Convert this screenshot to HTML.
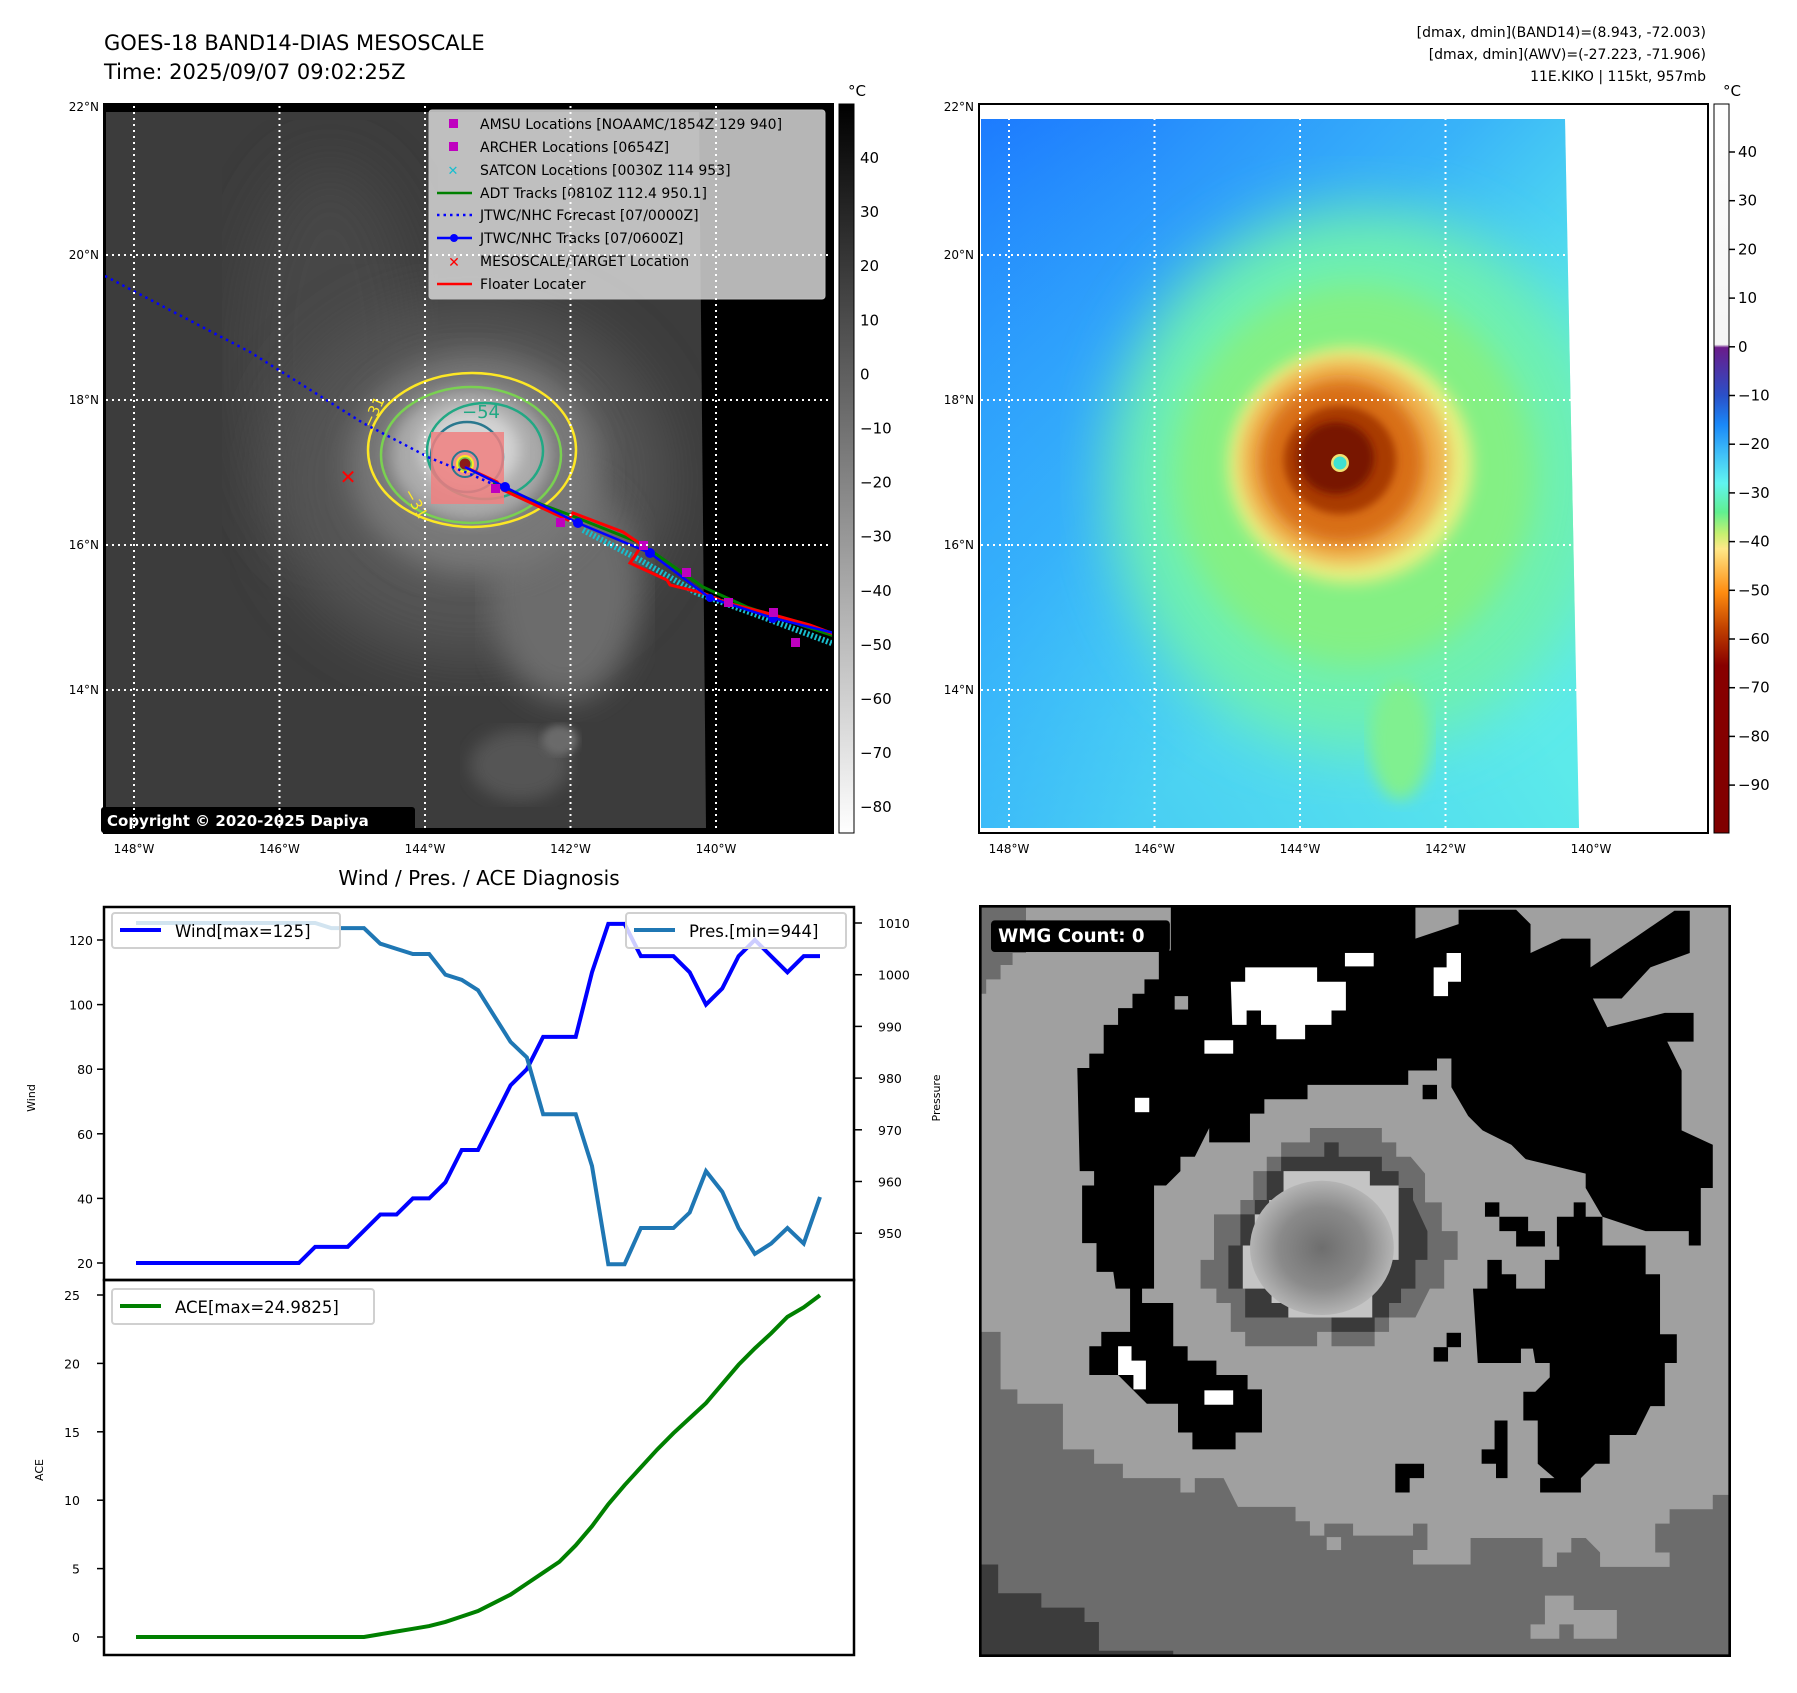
<!DOCTYPE html>
<html><head><meta charset="utf-8">
<style>
html,body{margin:0;padding:0;background:#fff;}
svg{display:block;font-family:"DejaVu Sans","Liberation Sans",sans-serif;}
</style></head>
<body>
<svg id="fig" width="1797" height="1693" viewBox="0 0 1797 1693" xmlns="http://www.w3.org/2000/svg">
<defs>
  <filter id="b8"><feGaussianBlur stdDeviation="8"/></filter>
  <filter id="b15"><feGaussianBlur stdDeviation="15"/></filter>
  <filter id="b30"><feGaussianBlur stdDeviation="30"/></filter>
  <filter id="b4"><feGaussianBlur stdDeviation="4"/></filter>
  <clipPath id="sat1"><polygon points="106,112 699,112 706,828 106,828"/></clipPath>
  <clipPath id="sat2"><polygon points="981,119 1565,119 1579,828 981,828"/></clipPath>
  <clipPath id="frame1"><rect x="104" y="104" width="729" height="729"/></clipPath>
  <linearGradient id="cb1" x1="0" y1="0" x2="0" y2="1">
    <stop offset="0" stop-color="#000"/><stop offset="1" stop-color="#fff"/>
  </linearGradient>
  <linearGradient id="cb2" x1="0" y1="0" x2="0" y2="1">
    <stop offset="0" stop-color="#ffffff"/>
    <stop offset="0.33" stop-color="#f4f4f4"/>
    <stop offset="0.334" stop-color="#6a1b8a"/>
    <stop offset="0.40" stop-color="#2a50c8"/>
    <stop offset="0.44" stop-color="#1a88f8"/>
    <stop offset="0.48" stop-color="#40c0f8"/>
    <stop offset="0.52" stop-color="#60f4f0"/>
    <stop offset="0.56" stop-color="#60f090"/>
    <stop offset="0.59" stop-color="#c8f070"/>
    <stop offset="0.61" stop-color="#ffe888"/>
    <stop offset="0.67" stop-color="#ff8c10"/>
    <stop offset="0.72" stop-color="#c04000"/>
    <stop offset="0.77" stop-color="#880000"/>
    <stop offset="1" stop-color="#800000"/>
  </linearGradient>
  <radialGradient id="eyeG" cx="0.5" cy="0.5" r="0.5">
    <stop offset="0" stop-color="#6e6e6e"/><stop offset="0.6" stop-color="#8a8a8a"/><stop offset="1" stop-color="#b4b4b4"/>
  </radialGradient>
  <linearGradient id="blueTL" x1="0" y1="0" x2="1" y2="1">
    <stop offset="0" stop-color="#1870ff"/><stop offset="0.35" stop-color="#2a9cff" stop-opacity="0.7"/><stop offset="0.6" stop-color="#30b0ff" stop-opacity="0"/>
  </linearGradient>
  <linearGradient id="blueBL" x1="0" y1="1" x2="0.6" y2="0.6">
    <stop offset="0" stop-color="#30a8ff" stop-opacity="0.6"/><stop offset="1" stop-color="#30b0ff" stop-opacity="0"/>
  </linearGradient>
</defs>

<text x="104" y="50" font-size="21">GOES-18 BAND14-DIAS MESOSCALE</text>
<text x="104" y="79" font-size="21">Time: 2025/09/07 09:02:25Z</text>
<g font-size="14" text-anchor="end">
  <text x="1706" y="37">[dmax, dmin](BAND14)=(8.943, -72.003)</text>
  <text x="1706" y="59">[dmax, dmin](AWV)=(-27.223, -71.906)</text>
  <text x="1706" y="81">11E.KIKO | 115kt, 957mb</text>
</g>

<g>
  <rect x="104" y="104" width="729" height="729" fill="#000"/>
  <g clip-path="url(#sat1)">
    <rect x="104" y="104" width="729" height="729" fill="#3c3c3c"/>
    <ellipse cx="330" cy="360" rx="90" ry="200" fill="#464646" filter="url(#b30)"/>
    <ellipse cx="470" cy="480" rx="200" ry="180" fill="#555" filter="url(#b30)"/>
    <ellipse cx="565" cy="590" rx="75" ry="110" fill="#6c6c6c" filter="url(#b15)"/>
    <ellipse cx="475" cy="465" rx="125" ry="110" fill="#787878" filter="url(#b15)"/>
    <ellipse cx="470" cy="455" rx="80" ry="66" fill="#aaaaaa" filter="url(#b8)"/>
    <ellipse cx="470" cy="450" rx="50" ry="42" fill="#d4d4d4" filter="url(#b8)"/>
    <ellipse cx="520" cy="765" rx="50" ry="35" fill="#555" filter="url(#b8)"/>
    <ellipse cx="560" cy="740" rx="18" ry="15" fill="#6a6a6a" filter="url(#b4)"/>
  </g>
  <g fill="none" stroke-width="2.5">
    <ellipse cx="472" cy="450" rx="104" ry="77" stroke="#fde725"/>
    <ellipse cx="471" cy="455" rx="90" ry="68" stroke="#7ad151"/>
    <ellipse cx="485" cy="451" rx="58" ry="48" stroke="#22a884"/>
    <ellipse cx="467" cy="457" rx="36" ry="35" stroke="#2a788e"/>
  </g>
  <rect x="431" y="432" width="73" height="72" fill="#f08080" opacity="0.85"/>
  <g>
    <circle cx="465" cy="464" r="13" fill="none" stroke="#2a788e" stroke-width="2"/>
    <circle cx="465" cy="464" r="9" fill="#fde725"/>
    <circle cx="465" cy="464" r="7" fill="#7ad151"/>
    <circle cx="465" cy="464" r="5.5" fill="#8b1a1a"/>
  </g>
  <text x="462" y="418" font-size="18" fill="#22a884">−54</text>
  <text x="363" y="425" font-size="15" fill="#fde725" transform="rotate(-65 370 420)">−31</text>
  <text x="402" y="495" font-size="15" fill="#fde725" transform="rotate(60 405 495)">−31</text>
  <polyline points="105,276 250,352 363,423 430,458 470,474 495,485" fill="none" stroke="#0000ff" stroke-width="2.5" stroke-dasharray="2.5 4"/>
  <g clip-path="url(#frame1)">
    <polyline points="583,530 640,560 697,593 760,616 834,644" fill="none" stroke="#17becf" stroke-width="6" stroke-dasharray="2 2"/>
    <polyline points="493,483 543,505 570,515 640,543 703,587 747,607 834,636" fill="none" stroke="#008000" stroke-width="3"/>
    <polyline points="465,467 497,482 503,490 568,520 573,513 623,532 642,545 630,563 667,580 670,585 703,593 727,603 763,612 810,625 834,634" fill="none" stroke="#ff0000" stroke-width="3"/>
    <polyline points="465,467 505,487 578,523 650,553 710,598 773,618 834,633" fill="none" stroke="#0000ff" stroke-width="2.5"/>
    <g fill="#0000ff">
      <circle cx="505" cy="487" r="5"/><circle cx="578" cy="523" r="5"/><circle cx="650" cy="553" r="5"/><circle cx="710" cy="598" r="4"/><circle cx="773" cy="618" r="5"/>
    </g>
    <g fill="#bf00bf">
      <rect x="491" y="484" width="9" height="9"/><rect x="556" y="518" width="9" height="9"/><rect x="639" y="541" width="9" height="9"/><rect x="682" y="568" width="9" height="9"/><rect x="724" y="598" width="9" height="9"/><rect x="769" y="608" width="9" height="9"/><rect x="791" y="638" width="9" height="9"/>
    </g>
  </g>
  <text x="348" y="484" font-size="20" font-weight="bold" fill="#ff0000" text-anchor="middle">✕</text>
  <rect x="104" y="104" width="729" height="729" fill="none" stroke="#000" stroke-width="2"/>
  <rect x="101" y="807" width="314" height="26" rx="3" fill="#000"/>
  <text x="107" y="826" font-size="15" font-weight="bold" fill="#fff">Copyright © 2020-2025 Dapiya</text>
</g>

<g font-size="14">
  <rect x="429" y="110" width="396" height="189" rx="3" fill="#d6d6d6" fill-opacity="0.85" stroke="#c0c0c0"/>
  <rect x="449" y="119" width="9" height="9" fill="#bf00bf"/><text x="480" y="129">AMSU Locations [NOAAMC/1854Z 129 940]</text>
  <rect x="449" y="142" width="9" height="9" fill="#bf00bf"/><text x="480" y="152">ARCHER Locations [0654Z]</text>
  <text x="453" y="175" fill="#17becf" text-anchor="middle" font-weight="bold" font-size="13">✕</text><text x="480" y="175">SATCON Locations [0030Z 114 953]</text>
  <line x1="437" y1="193" x2="472" y2="193" stroke="#008000" stroke-width="2.5"/><text x="480" y="198">ADT Tracks [0810Z 112.4 950.1]</text>
  <line x1="437" y1="215" x2="472" y2="215" stroke="#0000ff" stroke-width="2.5" stroke-dasharray="2.5 4"/><text x="480" y="220">JTWC/NHC Forecast [07/0000Z]</text>
  <line x1="437" y1="238" x2="472" y2="238" stroke="#0000ff" stroke-width="2.5"/><circle cx="454" cy="238" r="4" fill="#0000ff"/><text x="480" y="243">JTWC/NHC Tracks [07/0600Z]</text>
  <text x="454" y="267" fill="#ff0000" text-anchor="middle" font-weight="bold" font-size="14">✕</text><text x="480" y="266">MESOSCALE/TARGET Location</text>
  <line x1="437" y1="284" x2="472" y2="284" stroke="#ff0000" stroke-width="2.5"/><text x="480" y="289">Floater Locater</text>
</g>

<g>
  <rect x="979" y="104" width="729" height="729" fill="#fff"/>
  <g clip-path="url(#sat2)">
    <rect x="979" y="104" width="729" height="729" fill="#5ceaea"/>
    <rect x="979" y="104" width="729" height="729" fill="url(#blueTL)"/>
    <rect x="979" y="104" width="729" height="729" fill="url(#blueBL)"/>
    <ellipse cx="1360" cy="480" rx="250" ry="270" fill="#6ef0b0" filter="url(#b30)"/>
    <ellipse cx="1355" cy="475" rx="180" ry="190" fill="#84f084" filter="url(#b15)"/>
    <ellipse cx="1350" cy="465" rx="122" ry="118" fill="#e8f080" filter="url(#b8)"/>
    <ellipse cx="1345" cy="462" rx="104" ry="102" fill="#f0b050" filter="url(#b8)"/>
    <ellipse cx="1342" cy="462" rx="82" ry="82" fill="#d86e18" filter="url(#b8)"/>
    <ellipse cx="1340" cy="460" rx="56" ry="54" fill="#a83a04" filter="url(#b4)"/>
    <ellipse cx="1336" cy="458" rx="38" ry="36" fill="#781400" filter="url(#b4)"/>
    <circle cx="1340" cy="463" r="9" fill="#f0e070"/>
    <circle cx="1340" cy="463" r="6.5" fill="#40e0d0"/>
    <ellipse cx="1400" cy="740" rx="30" ry="60" fill="#80f090" filter="url(#b8)"/>
  </g>
  <rect x="979" y="104" width="729" height="729" fill="none" stroke="#000" stroke-width="2"/>
</g>

<g>
  <rect x="839" y="104" width="15" height="729" fill="url(#cb1)" stroke="#000" stroke-width="1"/>
  <text x="848" y="96" font-size="15">°C</text>
  <g id="cb1ticks" font-size="15"></g>
</g>
<g>
  <rect x="1714" y="104" width="15" height="729" fill="url(#cb2)" stroke="#000" stroke-width="1"/>
  <text x="1723" y="96" font-size="15">°C</text>
  <g id="cb2ticks" font-size="15"></g>
</g>

<g id="grids"></g>

<text x="479" y="885" font-size="20" text-anchor="middle">Wind / Pres. / ACE Diagnosis</text>
<g id="chart"></g>

<svg x="979" y="905" width="752" height="752" viewBox="0 0 1568 1568">
  <rect x="0" y="0" width="1568" height="1568" fill="#a0a0a0"/>
  <polygon fill="#6c6c6c" points="5,890 45,890 45,1010 80,1010 80,1040 175,1040 175,1135 240,1135 240,1165 300,1165 300,1195 420,1195 420,1225 450,1225 450,1195 510,1195 540,1255 660,1255 660,1285 690,1285 690,1315 720,1315 720,1290 780,1290 780,1315 905,1315 905,1290 935,1290 935,1345 905,1345 905,1375 1025,1375 1025,1320 1175,1320 1175,1380 1205,1380 1205,1350 1235,1350 1235,1320 1265,1320 1295,1350 1295,1380 1440,1380 1440,1350 1410,1350 1410,1290 1440,1290 1440,1260 1530,1260 1530,1230 1563,1230 1563,1563 5,1563"/>
  <polygon fill="#a0a0a0" points="1180,1440 1240,1440 1240,1470 1330,1470 1330,1530 1240,1530 1240,1500 1210,1500 1210,1530 1150,1530 1150,1500 1180,1500"/>
  <polygon fill="#a0a0a0" points="725,1318 755,1318 755,1345 725,1345"/>
  <polygon fill="#3c3c3c" points="5,1375 40,1375 40,1435 130,1435 130,1465 220,1465 220,1495 250,1495 250,1555 405,1555 405,1563 5,1563"/>
  <polygon fill="#6c6c6c" points="5,5 98,5 98,100 70,100 70,125 45,125 45,155 15,155 15,185 5,185"/>
  <polygon fill="#000" points="400,5 910,5 910,70 1000,40 1000,10 1120,10 1150,40 1150,100 1215,70 1275,70 1275,130 1365,70 1450,12 1482,12 1482,100 1400,130 1340,195 1280,195 1310,255 1430,225 1490,225 1490,285 1435,285 1465,345 1465,470 1530,500 1530,590 1505,590 1505,710 1480,710 1480,680 1390,680 1300,650 1265,590 1265,560 1140,530 1110,500 1050,470 1020,440 985,380 985,320 955,320 955,345 895,345 895,375 685,375 685,405 595,405 595,435 565,435 565,495 480,495 480,465 450,525 420,525 420,555 390,585 365,585 365,800 340,800 340,830 405,830 405,920 435,920 435,950 495,950 495,980 560,980 560,1010 590,1010 590,1100 535,1100 535,1135 445,1135 445,1100 415,1100 415,1040 350,1040 320,1010 290,980 230,980 230,920 255,920 255,890 315,890 315,800 285,800 280,765 245,765 245,705 215,705 215,585 240,585 240,555 210,555 205,340 230,340 230,310 260,310 260,250 290,250 290,215 320,215 320,185 345,185 345,155 375,155 375,95 400,95"/>
  <polygon fill="#000" points="1030,800 1060,800 1060,740 1090,740 1090,770 1120,770 1120,800 1180,800 1180,740 1210,740 1210,710 1390,710 1390,770 1420,770 1420,895 1455,895 1455,955 1430,955 1430,1045 1400,1045 1370,1105 1315,1105 1315,1165 1285,1165 1255,1195 1255,1225 1170,1225 1170,1195 1200,1195 1165,1165 1165,1075 1135,1075 1135,1015 1160,1015 1190,985 1190,955 1160,955 1155,925 1130,925 1130,955 1040,955"/>
  <polygon fill="#000" points="1085,650 1145,650 1145,680 1180,680 1180,712 1120,712 1120,680 1085,680"/>
  <polygon fill="#000" points="1205,650 1240,650 1240,620 1265,620 1265,650 1300,650 1300,712 1205,712"/>
  <rect x="1055" y="620" width="30" height="30" fill="#000"/>
  <rect x="925" y="375" width="30" height="30" fill="#000"/>
  <rect x="975" y="892" width="30" height="30" fill="#000"/><rect x="948" y="922" width="30" height="30" fill="#000"/>
  <polygon fill="#000" points="1075,1075 1102,1075 1102,1195 1078,1195 1078,1165 1048,1165 1048,1135 1075,1135"/>
  <polygon fill="#000" points="868,1165 928,1165 928,1195 898,1195 898,1225 868,1225"/>
  <rect x="408" y="190" width="28" height="28" fill="#a0a0a0"/>
  <polygon fill="#fff" points="525,160 555,160 555,130 705,130 705,160 765,160 765,220 735,220 735,250 680,250 680,280 620,280 620,250 588,250 588,220 558,220 558,250 528,250"/>
  <rect x="763" y="100" width="60" height="28" fill="#fff"/>
  <rect x="470" y="282" width="60" height="28" fill="#fff"/>
  <rect x="325" y="402" width="30" height="30" fill="#fff"/>
  <rect x="470" y="1012" width="60" height="30" fill="#fff"/>
  <polygon fill="#fff" points="975,100 1005,100 1005,160 978,160 978,190 948,190 948,130 975,130"/>
  <polygon fill="#fff" points="290,920 318,920 318,950 348,950 348,1010 322,1010 322,980 290,980"/>
  <polygon fill="#6c6c6c" points="690,465 840,465 840,495 870,495 870,525 900,525 930,560 930,620 965,620 965,680 998,680 998,740 970,740 970,800 940,800 910,860 855,860 855,890 825,890 825,920 735,920 735,890 705,890 705,920 555,920 555,890 525,890 525,830 495,830 495,800 462,800 462,740 490,740 490,645 545,645 545,615 572,615 572,555 600,555 600,525 630,525 630,495 690,495"/>
  <polygon fill="#3a3a3a" points="630,525 720,525 720,495 750,495 750,525 840,525 840,555 875,555 875,590 905,590 905,615 935,680 935,740 910,740 910,800 880,800 880,830 855,830 855,860 825,860 825,890 735,890 735,860 555,860 555,800 520,800 520,710 545,710 545,645 575,645 575,615 600,615 600,555 630,555"/>
  <polygon fill="#c4c4c4" points="635,555 815,555 815,585 875,585 875,740 850,740 850,770 820,770 820,860 645,860 645,830 610,830 610,800 550,800 550,710 575,710 575,645 605,645 605,615 635,615"/>
  <ellipse cx="715" cy="715" rx="150" ry="140" fill="url(#eyeG)"/>
  <rect x="2" y="2" width="1564" height="1564" fill="none" stroke="#000" stroke-width="7"/>
  <rect x="25" y="32" width="373" height="66" rx="8" fill="#000"/>
  <text x="40" y="77" font-size="38" font-weight="bold" fill="#fff">WMG Count: 0</text>
</svg>

<script>
const windVals = [20,20,20,20,20,20,20,20,20,20,20,25,25,25,30,35,35,40,40,45,55,55,65,75,80,90,90,90,110,125,125,115,115,115,110,100,105,115,120,115,110,115,115];
const presVals = [1010,1010,1010,1010,1010,1010,1010,1010,1010,1010,1010,1010,1009,1009,1009,1006,1005,1004,1004,1000,999,997,992,987,984,973,973,973,963,944,944,951,951,951,954,962,958,951,946,948,951,948,957];
const aceVals = [0,0,0,0,0,0,0,0,0,0,0,0,0,0,0,0.2,0.4,0.6,0.8,1.1,1.5,1.9,2.5,3.1,3.9,4.7,5.5,6.7,8.1,9.7,11.1,12.4,13.7,14.9,16.0,17.1,18.5,19.9,21.1,22.2,23.4,24.1,24.98];
const windTicks = [20,40,60,80,100,120];
const presTicks = [950,960,970,980,990,1000,1010];
const aceTicks = [0,5,10,15,20,25];
const irTicks = [40,30,20,10,0,-10,-20,-30,-40,-50,-60,-70,-80];
const awvTicks = [40,30,20,10,0,-10,-20,-30,-40,-50,-60,-70,-80,-90];
const lonTicks = [148,146,144,142,140];
const latTicks = [22,20,18,16,14];

const NS = 'http://www.w3.org/2000/svg';
function mk(tag, attrs, parent, txt){
  const e = document.createElementNS(NS, tag);
  for (const k in attrs) e.setAttribute(k, attrs[k]);
  if (txt !== undefined) e.textContent = txt;
  parent.appendChild(e);
  return e;
}
const n = windVals.length;
const xC = i => 136 + i * (820 - 136) / (n - 1);
const yW = v => 940 + (120 - v) * 3.23;
const yP = v => 923 + (1010 - v) * 5.17;
const yA = v => 1637 - v * 13.68;
const lonX = w => 425 + (144 - w) * 72.75;
const latY = l => 400 + (18 - l) * 72.5;
const cbIr = v => 158 + (40 - v) * 5.41;
const cbAwv = v => 152 + (40 - v) * 4.87;
const fmt = v => (v < 0 ? '\u2212' + Math.abs(v) : '' + v);

const cb1 = document.getElementById('cb1ticks');
irTicks.forEach(v => {
  const t = mk('text', {x: 860, y: cbIr(v) + 5}, cb1, fmt(v));
  
  
});
const cb2 = document.getElementById('cb2ticks');
awvTicks.forEach(v => {
  mk('line', {x1: 1729, x2: 1735, y1: cbAwv(v), y2: cbAwv(v), stroke: '#000', 'stroke-width': 1.5}, cb2);
  const t = mk('text', {x: 1738, y: cbAwv(v) + 5}, cb2, fmt(v));
  
  
});

const grids = document.getElementById('grids');
[0, 875].forEach(off => {
  lonTicks.forEach(w => {
    const x = lonX(w) + off;
    const l = mk('line', {x1: x, x2: x, y1: 106, y2: 831, stroke: '#fff', 'stroke-width': 2, 'stroke-dasharray': '2 4'}, grids);
    
    
    const t = mk('text', {x: x, y: 853, 'font-size': 12, 'text-anchor': 'middle'}, grids, w + '°W');
    
    
  });
  latTicks.forEach(l => {
    const y = latY(l);
    if (l !== 22) {
      const g = mk('line', {x1: 106 + off, x2: 831 + off, y1: y, y2: y, stroke: '#fff', 'stroke-width': 2, 'stroke-dasharray': '2 4'}, grids);
      
      
    }
    const t = mk('text', {x: 99 + off, y: (l === 22 ? 107 : y) + 4, 'font-size': 12, 'text-anchor': 'end'}, grids, l + '°N');
    
    
  });
});

const ch = document.getElementById('chart');
mk('rect', {x: 104, y: 907, width: 750, height: 748, fill: '#fff'}, ch);
const wl = mk('polyline', {points: windVals.map((v, i) => xC(i) + ',' + yW(v)).join(' '), fill: 'none', stroke: '#0000ff', 'stroke-width': 4}, ch);


const pl = mk('polyline', {points: presVals.map((v, i) => xC(i) + ',' + yP(v)).join(' '), fill: 'none', stroke: '#1f77b4', 'stroke-width': 4}, ch);


const al = mk('polyline', {points: aceVals.map((v, i) => xC(i) + ',' + yA(v)).join(' '), fill: 'none', stroke: '#008000', 'stroke-width': 4}, ch);


mk('rect', {x: 104, y: 907, width: 750, height: 373, fill: 'none', stroke: '#000', 'stroke-width': 2.5}, ch);
mk('rect', {x: 104, y: 1280, width: 750, height: 375, fill: 'none', stroke: '#000', 'stroke-width': 2.5}, ch);
windTicks.forEach(v => {
  mk('line', {x1: 97, x2: 104, y1: yW(v), y2: yW(v), stroke: '#000', 'stroke-width': 1.5}, ch);
  const t = mk('text', {x: 93, y: yW(v) + 5, 'font-size': 12.5, 'text-anchor': 'end'}, ch, v);
  
  
});
presTicks.forEach(v => {
  mk('line', {x1: 854, x2: 862, y1: yP(v), y2: yP(v), stroke: '#000', 'stroke-width': 1.5}, ch);
  const t = mk('text', {x: 878, y: yP(v) + 5, 'font-size': 12.5}, ch, v);
  
  
});
aceTicks.forEach(v => {
  mk('line', {x1: 97, x2: 104, y1: yA(v), y2: yA(v), stroke: '#000', 'stroke-width': 1.5}, ch);
  const t = mk('text', {x: 80, y: yA(v) + 5, 'font-size': 12.5, 'text-anchor': 'end'}, ch, v);
  
  
});
const lw = mk('text', {x: 35, y: 1098, 'font-size': 11, 'text-anchor': 'middle', transform: 'rotate(-90 35 1098)'}, ch, 'Wind');


const lp = mk('text', {x: 940, y: 1098, 'font-size': 11, 'text-anchor': 'middle', transform: 'rotate(-90 940 1098)'}, ch, 'Pressure');


const la = mk('text', {x: 43, y: 1470, 'font-size': 11, 'text-anchor': 'middle', transform: 'rotate(-90 43 1470)'}, ch, 'ACE');


function legend(x, y, w, color, label, name){
  const g = mk('g', {}, ch);
  
  
  mk('rect', {x: x, y: y, width: w, height: 35, rx: 3, fill: '#fff', 'fill-opacity': 0.8, stroke: '#d0d0d0', 'stroke-width': 2}, g);
  mk('line', {x1: x + 8, x2: x + 49, y1: y + 17, y2: y + 17, stroke: color, 'stroke-width': 4}, g);
  mk('text', {x: x + 63, y: y + 24, 'font-size': 16.5}, g, label);
}
legend(112, 913, 228, '#0000ff', 'Wind[max=125]', 'wind-legend');
legend(626, 913, 220, '#1f77b4', 'Pres.[min=944]', 'pressure-legend');
legend(112, 1289, 262, '#008000', 'ACE[max=24.9825]', 'ace-legend');
</script>
</svg>
</body></html>
